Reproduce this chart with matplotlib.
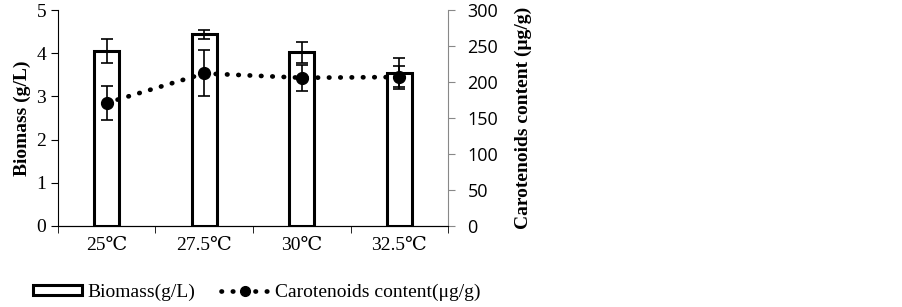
import matplotlib.pyplot as plt
import numpy as np
from matplotlib.ticker import FixedLocator
from matplotlib.lines import Line2D
from matplotlib.patches import Patch

temps = ["25℃", "27.5℃", "30℃", "32.5℃"]
biomass = [4.05, 4.44, 4.02, 3.55]
biomass_err = [0.28, 0.11, 0.24, 0.33]
carot = [171, 212, 206, 207]
carot_err = [24, 32, 18, 16]

serif = ["Liberation Serif", "DejaVu Serif"]
dots = (0, (0.1, 2.3))

fig = plt.figure(figsize=(9.03, 3.07), dpi=100)
ax = fig.add_axes([0.0642, 0.264, 0.432, 0.703])
x = np.arange(len(temps))

ax.bar(x, biomass, width=0.26, color="white", edgecolor="black", lw=2.2,
       yerr=biomass_err, capsize=4, error_kw=dict(ecolor="black", elinewidth=1.2, capthick=1.2),
       zorder=2)
ax.set_xlim(-0.5, 3.5)
ax.set_ylim(0, 5)
ax.set_yticks(range(6))
ax.set_yticklabels([str(i) for i in range(6)], fontfamily=serif, fontsize=14)
ax.set_xticks(x)
ax.set_xticklabels(temps, fontfamily=serif, fontsize=14)
ax.tick_params(axis="x", which="major", length=0, pad=8)
ax.xaxis.set_minor_locator(FixedLocator([-0.5, 0.5, 1.5, 2.5, 3.5]))
ax.tick_params(axis="x", which="minor", length=5, color="black")
ax.tick_params(axis="y", length=5)
ax.set_ylabel("Biomass (g/L)", fontfamily=serif, fontsize=14, fontweight="bold", labelpad=4)
ax.spines["top"].set_visible(False)
ax.spines["right"].set_visible(False)

ax2 = ax.twinx()
ax2.errorbar(x, carot, yerr=carot_err, color="black", ls=dots, lw=3.4,
             dash_capstyle="round", marker="o", ms=8.5, capsize=4, elinewidth=1.2,
             capthick=1.2, zorder=3)
ax2.set_ylim(0, 300)
ax2.set_yticks(range(0, 301, 50))
ax2.set_yticklabels([str(v) for v in range(0, 301, 50)], fontfamily="Open Sans", fontsize=13)
ax2.tick_params(axis="y", length=5, color="#888888", pad=9)
ax2.spines["right"].set_color("#888888")
ax2.spines["top"].set_visible(False)
ax2.spines["left"].set_visible(False)
ax2.set_ylabel("Carotenoids content (μg/g)", fontfamily=serif,
               fontsize=14, fontweight="bold", labelpad=12)

handles = [Patch(facecolor="white", edgecolor="black", lw=2.2),
           Line2D([], [], color="black", ls=dots, lw=3.4, dash_capstyle="round",
                  marker="o", ms=7)]
labels = ["Biomass(g/L)", "Carotenoids content(μg/g)"]
fig.legend(handles, labels, loc="lower left", bbox_to_anchor=(0.0365, 0.02), ncol=2,
           frameon=False, prop={"family": serif, "size": 14}, borderpad=0, borderaxespad=0,
           handlelength=2.5, handleheight=0.45, columnspacing=1.3, handletextpad=0.3)

fig.savefig("out.png", dpi=100)
